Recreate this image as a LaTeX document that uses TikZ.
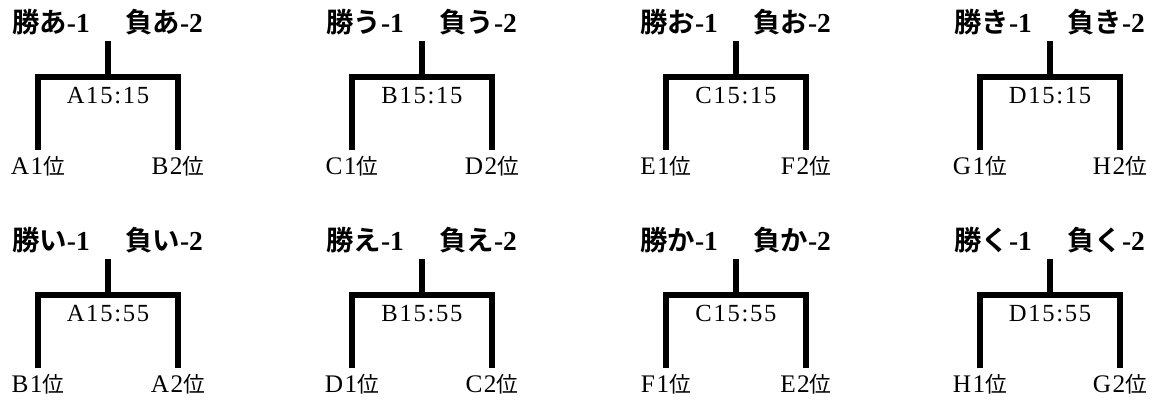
\documentclass[tikz,border=0pt]{standalone}
\usepackage{fontspec}
\setmainfont{Liberation Serif}
\newfontfamily\latinwide{Liberation Serif}[LetterSpace=7]
\newfontfamily\latinseed{Liberation Serif}[LetterSpace=6]
\newfontfamily\jpgothic{Noto Sans CJK JP Bold}
\newfontfamily\jpmin{Noto Sans CJK JP}

\tikzset{
  bracket/.style={line width=3.8pt, line join=miter},
  matchlabel/.style={font=\jpgothic\fontsize{19.5}{22}\selectfont, inner sep=0pt},
  timelabel/.style={font=\latinwide\fontsize{17.5}{20}\selectfont, inner sep=0pt},
  seedlabel/.style={font=\latinseed\fontsize{18}{21}\selectfont, inner sep=0pt},
}

\begin{document}
\begin{tikzpicture}[x=0.025cm, y=-0.025cm]
    \useasboundingbox (0,0) rectangle (1160,403);

    % One bracket per match: column, row, kana, group, time, left seed, right seed
    \foreach \col/\row/\kana/\grp/\tm/\lft/\rgt in {
        0/0/あ/A/15:15/A1/B2, 1/0/う/B/15:15/C1/D2,
        2/0/お/C/15:15/E1/F2, 3/0/き/D/15:15/G1/H2,
        0/1/い/A/15:55/B1/A2, 1/1/え/B/15:55/D1/C2,
        2/1/か/C/15:55/F1/E2, 3/1/く/D/15:55/H1/G2} {
        \pgfmathsetmacro{\cx}{108+314*\col}
        \pgfmathsetmacro{\cy}{218*\row}

        % Bracket lines
        \coordinate (stem-\col-\row) at (\cx, \cy+41);
        \coordinate (mid-\col-\row) at (\cx, \cy+77);
        \coordinate (legL-\col-\row) at (\cx-70, \cy+150);
        \coordinate (legR-\col-\row) at (\cx+70, \cy+150);
        \draw[bracket] (stem-\col-\row) -- (mid-\col-\row);
        \draw[bracket] (legL-\col-\row) |- (mid-\col-\row) -| (legR-\col-\row);

        % Winner and loser
        \node[matchlabel] (win-\col-\row) at (\cx-57, \cy+22) {勝\kana{\bfseries\rmfamily -1}};
        \node[matchlabel] (lose-\col-\row) at (\cx+56, \cy+22) {負\kana{\bfseries\rmfamily -2}};

        % Court and time
        \node[timelabel] (time-\col-\row) at (\cx, \cy+96) {\grp\tm};

        % Seeds
        \node[seedlabel] (seedL-\col-\row) at (\cx-70, \cy+166) {\lft{\jpmin\fontsize{15.5}{18}\selectfont 位}};
        \node[seedlabel] (seedR-\col-\row) at (\cx+70, \cy+166) {\rgt{\jpmin\fontsize{15.5}{18}\selectfont 位}};
    }
\end{tikzpicture}
\end{document}
